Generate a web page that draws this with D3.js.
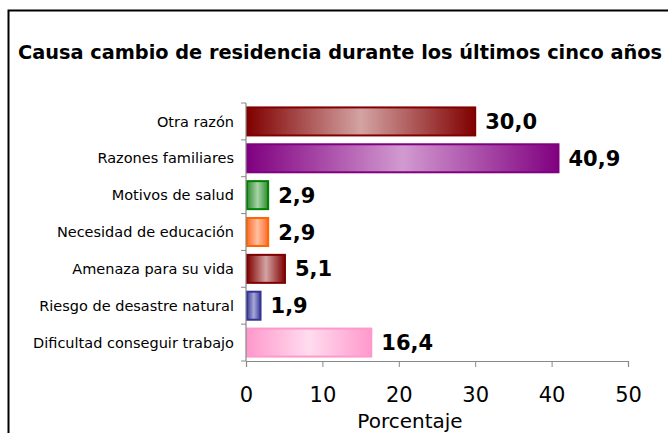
<!DOCTYPE html>
<html><head><meta charset="utf-8">
<script src="https://cdn.jsdelivr.net/npm/d3@7"></script>
<style>body{margin:0;background:#fff}svg{display:block}</style>
</head><body><div id="c"></div>
<script>
const categories = ["Otra razón","Razones familiares","Motivos de salud","Necesidad de educación","Amenaza para su vida","Riesgo de desastre natural","Dificultad conseguir trabajo"];
const values = [30.0, 40.9, 2.9, 2.9, 5.1, 1.9, 16.4];
const valueLabels = ["30,0","40,9","2,9","2,9","5,1","1,9","16,4"];
const xTicks = [0,10,20,30,40,50];
const edgeColors = ["#800000","#800080","#2e8b2e","#ff6a2a","#800000","#3c3c99","#ff99cc"];
const midColors  = ["#d4a3a3","#d29ad0","#a8d4a8","#ffc0a0","#d4a3a3","#a8a8d8","#ffdcee"];
const strokeColors = ["#800000","#800080","#008000","#ff6600","#800000","#333399","#ff99cc"];

const W=668,H=433;
const svg=d3.select("#c").append("svg").attr("width",W).attr("height",H);
const font="Tahoma, 'DejaVu Sans', Verdana, sans-serif";

// frame
svg.append("rect").attr("x",8.5).attr("y",10.5).attr("width",700).attr("height",500)
  .attr("fill","none").attr("stroke","#000").attr("stroke-width",2);

const title=svg.append("text").attr("x",18).attr("y",59).attr("font-family","'DejaVu Sans Condensed', 'DejaVu Sans', sans-serif").attr("font-weight","bold")
  .attr("font-size",20)
  .text("Causa cambio de residencia durante los últimos cinco años");
const tw=title.node().getComputedTextLength();
if(tw>644) title.attr("font-size",20*644/tw);
else title.attr("textLength",644).attr("lengthAdjust","spacingAndGlyphs");

const x=d3.scaleLinear().domain([0,50]).range([246,628]);
const y=d3.scaleBand().domain(categories).range([103,361]).paddingInner(0.24).paddingOuter(0.12);

const defs=svg.append("defs");
categories.forEach((c,i)=>{
  const g=defs.append("linearGradient").attr("id","g"+i).attr("x1","0").attr("x2","1").attr("y1","0").attr("y2","0");
  g.append("stop").attr("offset","0%").attr("stop-color",edgeColors[i]);
  g.append("stop").attr("offset","50%").attr("stop-color",midColors[i]);
  g.append("stop").attr("offset","100%").attr("stop-color",edgeColors[i]);
});

svg.selectAll("rect.bar").data(categories).join("rect").attr("class","bar")
  .attr("x",x(0)+1).attr("y",d=>y(d))
  .attr("width",(d,i)=>x(values[i])-x(0)-1).attr("height",y.bandwidth())
  .attr("fill",(d,i)=>`url(#g${i})`).attr("stroke",(d,i)=>strokeColors[i]).attr("stroke-width",2);

svg.selectAll("text.val").data(categories).join("text").attr("class","val")
  .attr("x",(d,i)=>x(values[i])+10).attr("y",d=>y(d)+y.bandwidth()/2).attr("dy","0.36em")
  .attr("font-family",font).attr("font-weight","bold").attr("font-size",21).attr("fill","#000")
  .text((d,i)=>valueLabels[i]);

// y axis
const ya=svg.append("g");
ya.append("line").attr("x1",246).attr("x2",246).attr("y1",103).attr("y2",361).attr("stroke","#888").attr("stroke-width",1.2);
d3.range(categories.length+1).forEach(k=>{
  const yy=103+k*(258/categories.length);
  ya.append("line").attr("x1",241).attr("x2",246).attr("y1",yy).attr("y2",yy).attr("stroke","#888");
});
ya.selectAll("text").data(categories).join("text").attr("x",234).attr("y",d=>y(d)+y.bandwidth()/2).attr("dy","0.35em")
  .attr("text-anchor","end").attr("font-family",font).attr("font-size",14.5).attr("fill","#000").text(d=>d);

// x axis
const xa=svg.append("g").attr("transform","translate(0,361)")
  .call(d3.axisBottom(x).tickValues(xTicks).tickSize(6).tickPadding(20).tickFormat(d3.format("d")));
xa.select(".domain").attr("stroke","#888").attr("stroke-width",1.2);
xa.selectAll(".tick line").attr("stroke","#888");
xa.selectAll("text").attr("font-family",font).attr("font-size",21).attr("fill","#000");

svg.append("text").attr("x",410).attr("y",428).attr("text-anchor","middle").attr("font-family",font)
  .attr("font-size",20).text("Porcentaje");
</script></body></html>
